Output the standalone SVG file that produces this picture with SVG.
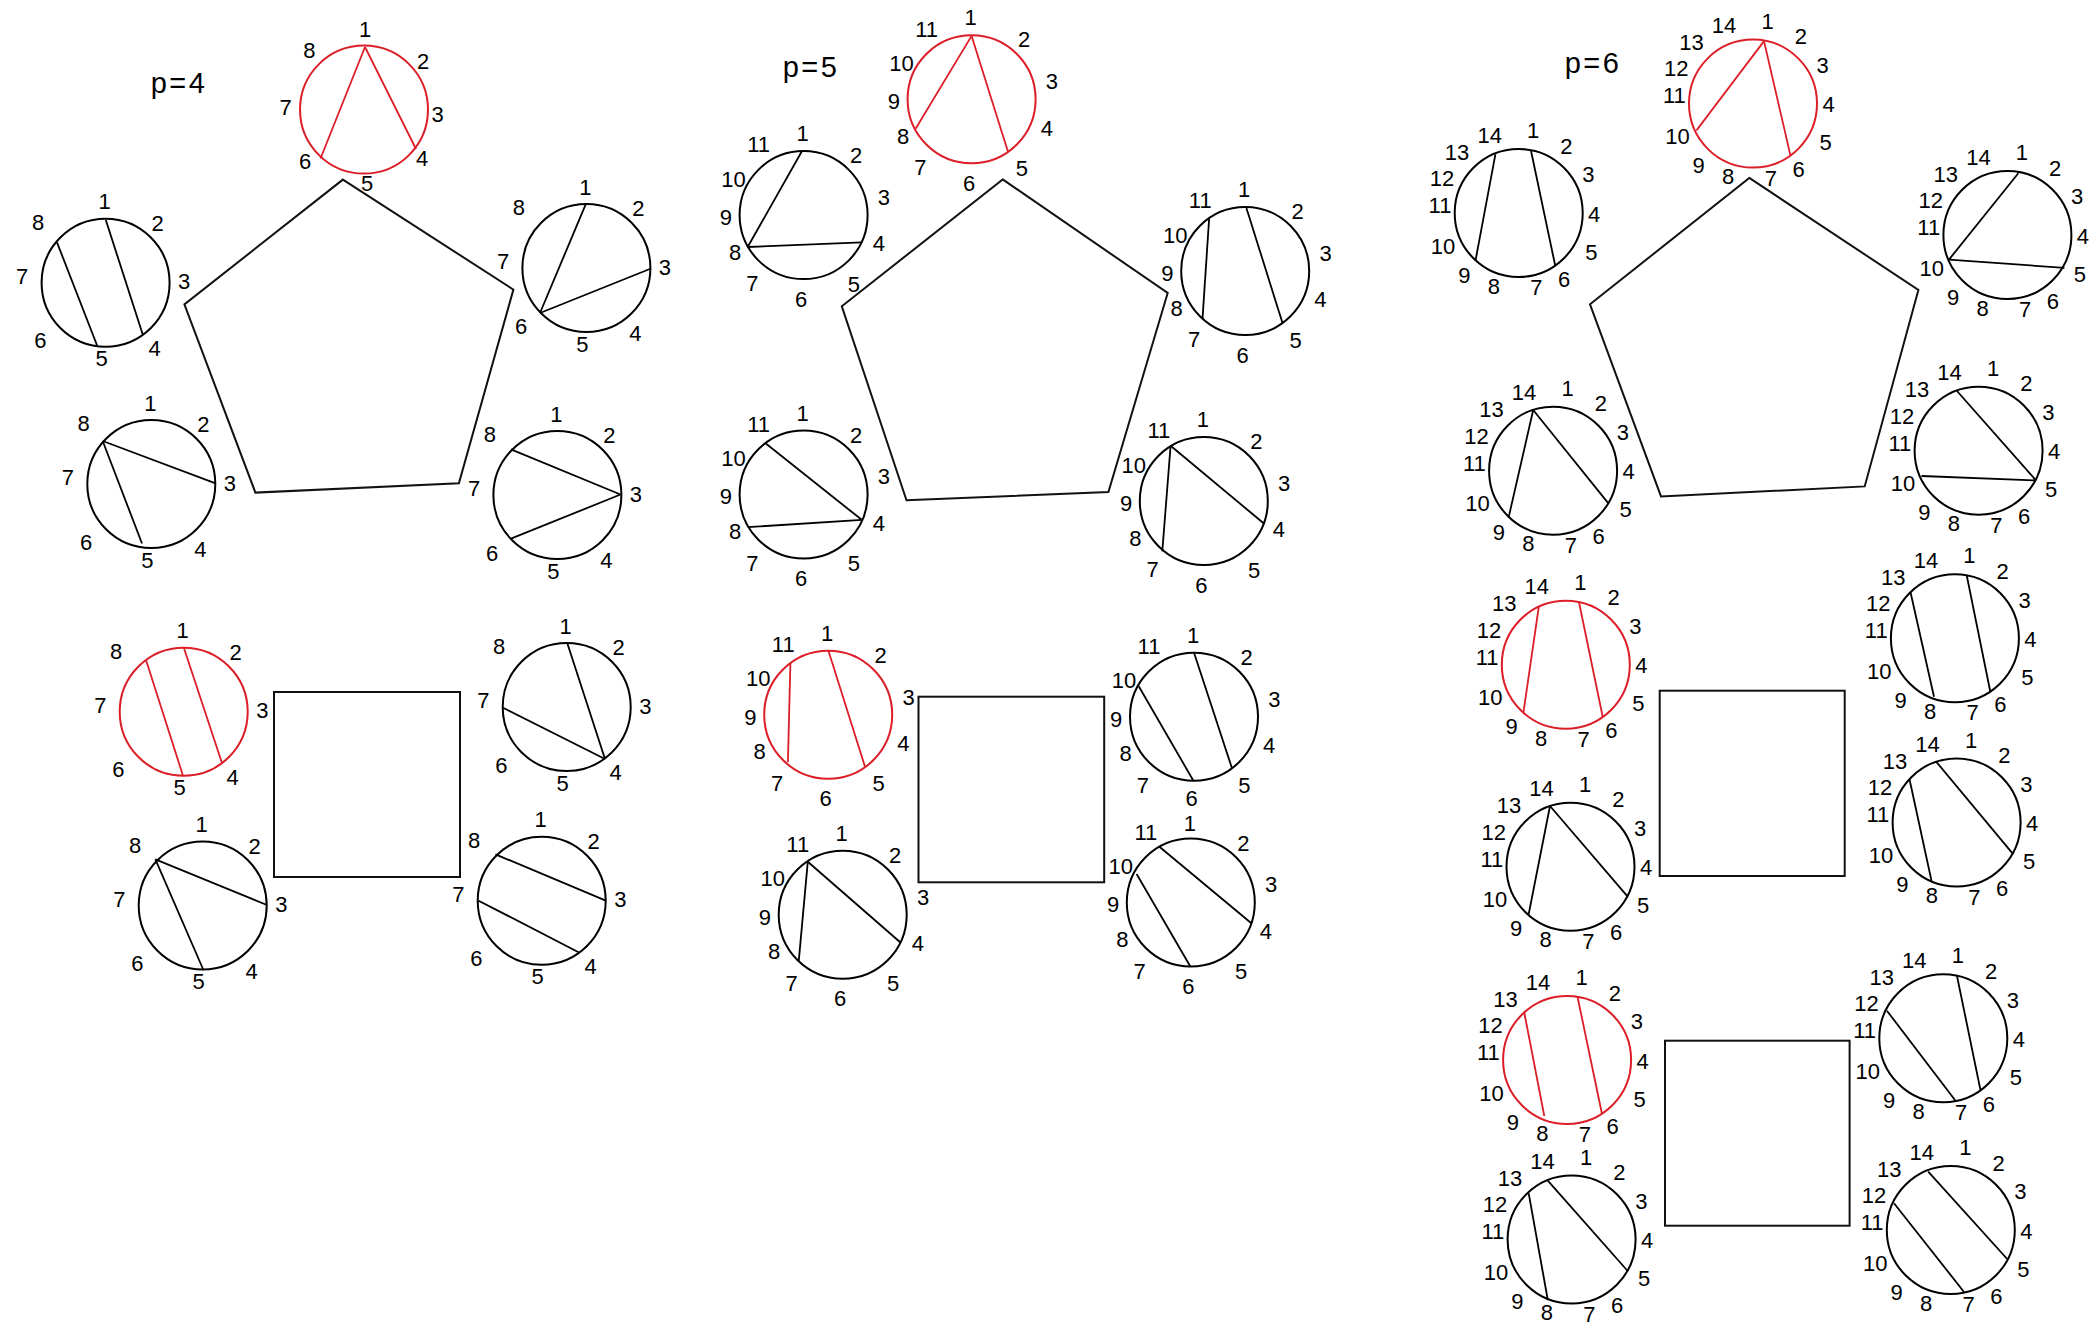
<svg xmlns="http://www.w3.org/2000/svg" width="2096" height="1334" viewBox="0 0 2096 1334">
<style>
.t{font:29px "Liberation Sans",Arial,sans-serif;letter-spacing:2.5px;text-anchor:middle;fill:#000}
.l{font:22px "Liberation Sans",Arial,sans-serif;text-anchor:middle;fill:#000}
.c{fill:none;stroke:#000;stroke-width:2}
.cr{fill:none;stroke:#dc1e28;stroke-width:2}
.k{stroke:#000;stroke-width:1.8}
.kr{stroke:#dc1e28;stroke-width:1.8}
.sh{fill:none;stroke:#111;stroke-width:2}
</style>
<rect width="2096" height="1334" fill="#fff"/>
<text class="t" x="179" y="93">p=4</text>
<text class="t" x="811" y="77">p=5</text>
<text class="t" x="1593" y="73">p=6</text>

<g id="p4-pentagon"><polygon class="sh" points="342.9,179.6 513.4,289.6 458.9,483.3 255.4,492.6 184.4,304.4"/></g>
<g id="p4-square"><rect class="sh" x="274" y="692" width="186" height="185"/></g>
<g id="p5-pentagon"><polygon class="sh" points="1002.7,179.4 1167.7,293 1108.4,492 906.5,500.2 841.8,306.3"/></g>
<g id="p5-square"><rect class="sh" x="918.5" y="696.7" width="185.7" height="185.6"/></g>
<g id="p6-pentagon"><polygon class="sh" points="1749.3,177.9 1918.4,290 1864.7,486.4 1661,496.4 1590,304.3"/></g>
<g id="p6-square1"><rect class="sh" x="1659.7" y="690.7" width="185" height="185.3"/></g>
<g id="p6-square2"><rect class="sh" x="1665" y="1040.7" width="184.6" height="185"/></g>

<!-- p=4 -->
<g id="p4-A"><circle class="cr" cx="364" cy="109.6" r="64"/>
<line class="kr" x1="365" y1="47" x2="416" y2="149"/><line class="kr" x1="365" y1="47" x2="320.5" y2="158.5"/>
<g class="l" transform="translate(364,109.6)"><text x="1.2" y="-72.5">1</text><text x="59" y="-41">2</text><text x="73.5" y="12.7">3</text><text x="58" y="56.5">4</text><text x="3" y="81.9">5</text><text x="-59" y="59.8">6</text><text x="-78.3" y="5.3">7</text><text x="-54.6" y="-51.4">8</text></g></g>

<g id="p4-B"><circle class="c" cx="105.6" cy="282.8" r="64"/>
<line class="k" x1="105.8" y1="220" x2="142.9" y2="335"/><line class="k" x1="57" y1="242.4" x2="97.3" y2="346"/>
<g class="l" transform="translate(105.6,282.8)"><text x="-1" y="-73.5">1</text><text x="52" y="-52">2</text><text x="78.6" y="6.5">3</text><text x="49" y="73">4</text><text x="-4" y="83.5">5</text><text x="-65.3" y="65.5">6</text><text x="-83.4" y="1">7</text><text x="-67.6" y="-53">8</text></g></g>

<g id="p4-C"><circle class="c" cx="586.4" cy="268" r="64"/>
<line class="k" x1="585.7" y1="204.4" x2="540" y2="313"/><line class="k" x1="540" y1="313" x2="651" y2="268.5"/>
<g class="l" transform="translate(586.4,268)"><text x="-1" y="-73.5">1</text><text x="52" y="-52">2</text><text x="78.6" y="6.5">3</text><text x="49" y="73">4</text><text x="-4" y="83.5">5</text><text x="-65.3" y="65.5">6</text><text x="-83.4" y="1">7</text><text x="-67.6" y="-53">8</text></g></g>

<g id="p4-D"><circle class="c" cx="151.3" cy="484" r="64"/>
<line class="k" x1="102.7" y1="441" x2="215.6" y2="483.4"/><line class="k" x1="102.7" y1="441" x2="142" y2="543.5"/>
<g class="l" transform="translate(151.3,484)"><text x="-1" y="-73.5">1</text><text x="52" y="-52">2</text><text x="78.6" y="6.5">3</text><text x="49" y="73">4</text><text x="-4" y="83.5">5</text><text x="-65.3" y="65.5">6</text><text x="-83.4" y="1">7</text><text x="-67.6" y="-53">8</text></g></g>

<g id="p4-E"><circle class="c" cx="557.4" cy="495" r="64"/>
<line class="k" x1="511" y1="449.4" x2="620.5" y2="494.5"/><line class="k" x1="620.5" y1="494.5" x2="511" y2="538.7"/>
<g class="l" transform="translate(557.4,495)"><text x="-1" y="-73.5">1</text><text x="52" y="-52">2</text><text x="78.6" y="6.5">3</text><text x="49" y="73">4</text><text x="-4" y="83.5">5</text><text x="-65.3" y="65.5">6</text><text x="-83.4" y="1">7</text><text x="-67.6" y="-53">8</text></g></g>

<g id="p4-F"><circle class="cr" cx="183.7" cy="711.8" r="64"/>
<line class="kr" x1="184" y1="648.3" x2="221.9" y2="762.7"/><line class="kr" x1="146" y1="660" x2="183" y2="775.7"/>
<g class="l" transform="translate(183.7,711.8)"><text x="-1" y="-73.5">1</text><text x="52" y="-52">2</text><text x="78.6" y="6.5">3</text><text x="49" y="73">4</text><text x="-4" y="83.5">5</text><text x="-65.3" y="65.5">6</text><text x="-83.4" y="1">7</text><text x="-67.6" y="-53">8</text></g></g>

<g id="p4-G"><circle class="c" cx="566.7" cy="707" r="64"/>
<line class="k" x1="567" y1="642.3" x2="605" y2="759"/><line class="k" x1="503" y1="707.7" x2="605" y2="759"/>
<g class="l" transform="translate(566.7,707)"><text x="-1" y="-73.5">1</text><text x="52" y="-52">2</text><text x="78.6" y="6.5">3</text><text x="49" y="73">4</text><text x="-4" y="83.5">5</text><text x="-65.3" y="65.5">6</text><text x="-83.4" y="1">7</text><text x="-67.6" y="-53">8</text></g></g>

<g id="p4-H"><circle class="c" cx="202.7" cy="905.5" r="64"/>
<line class="k" x1="155.4" y1="859.3" x2="267" y2="905"/><line class="k" x1="155.4" y1="859.3" x2="203" y2="969"/>
<g class="l" transform="translate(202.7,905.5)"><text x="-1" y="-73.5">1</text><text x="52" y="-52">2</text><text x="78.6" y="6.5">3</text><text x="49" y="73">4</text><text x="-4" y="83.5">5</text><text x="-65.3" y="65.5">6</text><text x="-83.4" y="1">7</text><text x="-67.6" y="-53">8</text></g></g>

<g id="p4-I"><circle class="c" cx="541.7" cy="900.8" r="64"/>
<line class="k" x1="495.5" y1="854.3" x2="605.8" y2="900.7"/><line class="k" x1="478.6" y1="900.7" x2="579.5" y2="952.7"/>
<g class="l" transform="translate(541.7,900.8)"><text x="-1" y="-73.5">1</text><text x="52" y="-52">2</text><text x="78.6" y="6.5">3</text><text x="49" y="73">4</text><text x="-4" y="83.5">5</text><text x="-65.3" y="65.5">6</text><text x="-83.4" y="1">7</text><text x="-67.6" y="-53">8</text></g></g>

<!-- p=5 -->
<g id="p5-J"><circle class="cr" cx="971.6" cy="99.3" r="64"/>
<line class="kr" x1="971.6" y1="35.9" x2="915.6" y2="128.7"/><line class="kr" x1="971.6" y1="35.9" x2="1008" y2="151.7"/>
<g class="l" transform="translate(971.6,99.3)"><text x="-1" y="-74">1</text><text x="52.5" y="-51.9">2</text><text x="80.4" y="-10.1">3</text><text x="75.2" y="36.3">4</text><text x="50.4" y="76.5">5</text><text x="-2.5" y="91.5">6</text><text x="-51.2" y="76">7</text><text x="-68.5" y="44.5">8</text><text x="-77.8" y="9.9">9</text><text x="-70" y="-28.5">10</text><text x="-45" y="-62.7">11</text></g></g>

<g id="p5-K"><circle class="c" cx="803.6" cy="215.1" r="64"/>
<line class="k" x1="801.6" y1="151.7" x2="747.7" y2="247"/><line class="k" x1="747.7" y1="247" x2="861.7" y2="242.3"/>
<g class="l" transform="translate(803.6,215.1)"><text x="-1" y="-74">1</text><text x="52.5" y="-51.9">2</text><text x="80.4" y="-10.1">3</text><text x="75.2" y="36.3">4</text><text x="50.4" y="76.5">5</text><text x="-2.5" y="91.5">6</text><text x="-51.2" y="76">7</text><text x="-68.5" y="44.5">8</text><text x="-77.8" y="9.9">9</text><text x="-70" y="-28.5">10</text><text x="-45" y="-62.7">11</text></g></g>

<g id="p5-L"><circle class="c" cx="1245.2" cy="271" r="64"/>
<line class="k" x1="1246.4" y1="207.9" x2="1282.5" y2="323"/><line class="k" x1="1209.1" y1="219" x2="1202.5" y2="318.9"/>
<g class="l" transform="translate(1245.2,271)"><text x="-1" y="-74">1</text><text x="52.5" y="-51.9">2</text><text x="80.4" y="-10.1">3</text><text x="75.2" y="36.3">4</text><text x="50.4" y="76.5">5</text><text x="-2.5" y="91.5">6</text><text x="-51.2" y="76">7</text><text x="-68.5" y="44.5">8</text><text x="-77.8" y="9.9">9</text><text x="-70" y="-28.5">10</text><text x="-45" y="-62.7">11</text></g></g>

<g id="p5-M"><circle class="c" cx="803.6" cy="494.5" r="64"/>
<line class="k" x1="765.5" y1="443.2" x2="861.7" y2="519.8"/><line class="k" x1="747.7" y1="527.2" x2="861.7" y2="519.8"/>
<g class="l" transform="translate(803.6,494.5)"><text x="-1" y="-74">1</text><text x="52.5" y="-51.9">2</text><text x="80.4" y="-10.1">3</text><text x="75.2" y="36.3">4</text><text x="50.4" y="76.5">5</text><text x="-2.5" y="91.5">6</text><text x="-51.2" y="76">7</text><text x="-68.5" y="44.5">8</text><text x="-77.8" y="9.9">9</text><text x="-70" y="-28.5">10</text><text x="-45" y="-62.7">11</text></g></g>

<g id="p5-N"><circle class="c" cx="1203.8" cy="501" r="64"/>
<line class="k" x1="1170.6" y1="445.8" x2="1263.9" y2="523.5"/><line class="k" x1="1170.6" y1="445.8" x2="1162.3" y2="551.2"/>
<g class="l" transform="translate(1203.8,501)"><text x="-1" y="-74">1</text><text x="52.5" y="-51.9">2</text><text x="80.4" y="-10.1">3</text><text x="75.2" y="36.3">4</text><text x="50.4" y="76.5">5</text><text x="-2.5" y="91.5">6</text><text x="-51.2" y="76">7</text><text x="-68.5" y="44.5">8</text><text x="-77.8" y="9.9">9</text><text x="-70" y="-28.5">10</text><text x="-45" y="-62.7">11</text></g></g>

<g id="p5-O"><circle class="cr" cx="828.2" cy="714.8" r="64"/>
<line class="kr" x1="828.5" y1="651" x2="865" y2="766.7"/><line class="kr" x1="790.4" y1="663.3" x2="787.9" y2="762.3"/>
<g class="l" transform="translate(828.2,714.8)"><text x="-1" y="-74">1</text><text x="52.5" y="-51.9">2</text><text x="80.4" y="-10.1">3</text><text x="75.2" y="36.3">4</text><text x="50.4" y="76.5">5</text><text x="-2.5" y="91.5">6</text><text x="-51.2" y="76">7</text><text x="-68.5" y="44.5">8</text><text x="-77.8" y="9.9">9</text><text x="-70" y="-28.5">10</text><text x="-45" y="-62.7">11</text></g></g>

<g id="p5-P"><circle class="c" cx="1194" cy="716.7" r="64"/>
<line class="k" x1="1194.2" y1="653.3" x2="1232" y2="768.3"/><line class="k" x1="1138.6" y1="686" x2="1193.4" y2="780.7"/>
<g class="l" transform="translate(1194,716.7)"><text x="-1" y="-74">1</text><text x="52.5" y="-51.9">2</text><text x="80.4" y="-10.1">3</text><text x="75.2" y="36.3">4</text><text x="50.4" y="76.5">5</text><text x="-2.5" y="89.5">6</text><text x="-51.2" y="76">7</text><text x="-68.5" y="44.5">8</text><text x="-77.8" y="9.9">9</text><text x="-70" y="-28.5">10</text><text x="-45" y="-62.7">11</text></g></g>

<g id="p5-Q"><circle class="c" cx="842.7" cy="914.8" r="64"/>
<line class="k" x1="807.8" y1="861.7" x2="900.2" y2="942.3"/><line class="k" x1="807.8" y1="861.7" x2="798.7" y2="961.7"/>
<g class="l" transform="translate(842.7,914.8)"><text x="-1" y="-74">1</text><text x="52.5" y="-51.9">2</text><text x="80.4" y="-10.1">3</text><text x="75.2" y="36.3">4</text><text x="50.4" y="76.5">5</text><text x="-2.5" y="91.5">6</text><text x="-51.2" y="76">7</text><text x="-68.5" y="44.5">8</text><text x="-77.8" y="9.9">9</text><text x="-70" y="-28.5">10</text><text x="-45" y="-62.7">11</text></g></g>

<g id="p5-R"><circle class="c" cx="1190.8" cy="902.5" r="64"/>
<line class="k" x1="1159.4" y1="846.7" x2="1251.4" y2="923.3"/><line class="k" x1="1136.6" y1="874" x2="1190.5" y2="966.7"/>
<g class="l" transform="translate(1190.8,902.5)"><text x="-1" y="-72">1</text><text x="52.5" y="-51.9">2</text><text x="80.4" y="-10.1">3</text><text x="75.2" y="36.3">4</text><text x="50.4" y="76.5">5</text><text x="-2.5" y="91.5">6</text><text x="-51.2" y="76">7</text><text x="-68.5" y="44.5">8</text><text x="-77.8" y="9.9">9</text><text x="-70" y="-28.5">10</text><text x="-45" y="-62.7">11</text></g></g>

<!-- p=6 -->
<g id="p6-S"><circle class="cr" cx="1753" cy="103.6" r="64"/>
<line class="kr" x1="1764" y1="41.1" x2="1696.5" y2="130.4"/><line class="kr" x1="1764" y1="41.1" x2="1790.6" y2="156.1"/>
<g class="l" transform="translate(1753,103.6)"><text x="14.5" y="-74.9">1</text><text x="47.8" y="-59.5">2</text><text x="69.7" y="-30.6">3</text><text x="75.5" y="8.5">4</text><text x="72.6" y="46.5">5</text><text x="45.5" y="73.6">6</text><text x="17.8" y="82.2">7</text><text x="-24.8" y="80.8">8</text><text x="-54.3" y="69.7">9</text><text x="-75.6" y="40.5">10</text><text x="-78.7" y="-0.2">11</text><text x="-76.7" y="-27.2">12</text><text x="-61.6" y="-53.5">13</text><text x="-29" y="-70.5">14</text></g></g>

<g id="p6-T"><circle class="c" cx="1518.7" cy="213" r="64"/>
<line class="k" x1="1531" y1="150.7" x2="1555.3" y2="266"/><line class="k" x1="1495.4" y1="154.3" x2="1475.5" y2="260.7"/>
<g class="l" transform="translate(1518.7,213)"><text x="14.5" y="-74.9">1</text><text x="47.8" y="-59.5">2</text><text x="69.7" y="-30.6">3</text><text x="75.5" y="8.5">4</text><text x="72.6" y="46.5">5</text><text x="45.5" y="73.6">6</text><text x="17.8" y="82.2">7</text><text x="-24.8" y="80.8">8</text><text x="-54.3" y="69.7">9</text><text x="-75.6" y="40.5">10</text><text x="-78.7" y="-0.2">11</text><text x="-76.7" y="-27.2">12</text><text x="-61.6" y="-53.5">13</text><text x="-29" y="-70.5">14</text></g></g>

<g id="p6-U"><circle class="c" cx="2007.4" cy="235" r="64"/>
<line class="k" x1="2018.3" y1="173.2" x2="1949" y2="259.6"/><line class="k" x1="1949" y1="259.6" x2="2064.4" y2="267.9"/>
<g class="l" transform="translate(2007.4,235)"><text x="14.5" y="-74.9">1</text><text x="47.8" y="-59.5">2</text><text x="69.7" y="-30.6">3</text><text x="75.5" y="8.5">4</text><text x="72.6" y="46.5">5</text><text x="45.5" y="73.6">6</text><text x="17.8" y="82.2">7</text><text x="-24.8" y="80.8">8</text><text x="-54.3" y="69.7">9</text><text x="-75.6" y="40.5">10</text><text x="-78.7" y="-0.2">11</text><text x="-76.7" y="-27.2">12</text><text x="-61.6" y="-53.5">13</text><text x="-29" y="-70.5">14</text></g></g>

<g id="p6-V"><circle class="c" cx="1553.1" cy="470.7" r="64"/>
<line class="k" x1="1533.2" y1="410" x2="1608.6" y2="503.6"/><line class="k" x1="1533.2" y1="410" x2="1508.7" y2="517.1"/>
<g class="l" transform="translate(1553.1,470.7)"><text x="14.5" y="-74.9">1</text><text x="47.8" y="-59.5">2</text><text x="69.7" y="-30.6">3</text><text x="75.5" y="8.5">4</text><text x="72.6" y="46.5">5</text><text x="45.5" y="73.6">6</text><text x="17.8" y="82.2">7</text><text x="-24.8" y="80.8">8</text><text x="-54.3" y="69.7">9</text><text x="-75.6" y="40.5">10</text><text x="-78.7" y="-0.2">11</text><text x="-76.7" y="-27.2">12</text><text x="-61.6" y="-53.5">13</text><text x="-29" y="-70.5">14</text></g></g>

<g id="p6-W"><circle class="c" cx="1978.6" cy="450.7" r="64"/>
<line class="k" x1="1957" y1="391" x2="2036" y2="480.4"/><line class="k" x1="1921.5" y1="476" x2="2036" y2="480.4"/>
<g class="l" transform="translate(1978.6,450.7)"><text x="14.5" y="-74.9">1</text><text x="47.8" y="-59.5">2</text><text x="69.7" y="-30.6">3</text><text x="75.5" y="8.5">4</text><text x="72.6" y="46.5">5</text><text x="45.5" y="73.6">6</text><text x="17.8" y="82.2">7</text><text x="-24.8" y="80.8">8</text><text x="-54.3" y="69.7">9</text><text x="-75.6" y="40.5">10</text><text x="-78.7" y="-0.2">11</text><text x="-76.7" y="-27.2">12</text><text x="-61.6" y="-53.5">13</text><text x="-29" y="-70.5">14</text></g></g>

<g id="p6-X"><circle class="cr" cx="1565.8" cy="664.8" r="64"/>
<line class="kr" x1="1578.9" y1="601.7" x2="1602.8" y2="717.3"/><line class="kr" x1="1538.9" y1="606" x2="1523.4" y2="712.7"/>
<g class="l" transform="translate(1565.8,664.8)"><text x="14.5" y="-74.9">1</text><text x="47.8" y="-59.5">2</text><text x="69.7" y="-30.6">3</text><text x="75.5" y="8.5">4</text><text x="72.6" y="46.5">5</text><text x="45.5" y="73.6">6</text><text x="17.8" y="82.2">7</text><text x="-24.8" y="80.8">8</text><text x="-54.3" y="69.7">9</text><text x="-75.6" y="40.5">10</text><text x="-78.7" y="-0.2">11</text><text x="-76.7" y="-27.2">12</text><text x="-61.6" y="-53.5">13</text><text x="-29" y="-70.5">14</text></g></g>

<g id="p6-Y"><circle class="c" cx="1954.9" cy="638.3" r="64"/>
<line class="k" x1="1966.8" y1="575.7" x2="1990.3" y2="691.7"/><line class="k" x1="1910.4" y1="591.7" x2="1934" y2="696.7"/>
<g class="l" transform="translate(1954.9,638.3)"><text x="14.5" y="-74.9">1</text><text x="47.8" y="-59.5">2</text><text x="69.7" y="-30.6">3</text><text x="75.5" y="8.5">4</text><text x="72.6" y="46.5">5</text><text x="45.5" y="73.6">6</text><text x="17.8" y="82.2">7</text><text x="-24.8" y="80.8">8</text><text x="-54.3" y="69.7">9</text><text x="-75.6" y="40.5">10</text><text x="-78.7" y="-0.2">11</text><text x="-76.7" y="-27.2">12</text><text x="-61.6" y="-53.5">13</text><text x="-29" y="-70.5">14</text></g></g>

<g id="p6-Z"><circle class="c" cx="1570.5" cy="866.7" r="64"/>
<line class="k" x1="1550" y1="806" x2="1627.7" y2="896.7"/><line class="k" x1="1550" y1="806" x2="1528.7" y2="914"/>
<g class="l" transform="translate(1570.5,866.7)"><text x="14.5" y="-74.9">1</text><text x="47.8" y="-59.5">2</text><text x="69.7" y="-30.6">3</text><text x="75.5" y="8.5">4</text><text x="72.6" y="46.5">5</text><text x="45.5" y="73.6">6</text><text x="17.8" y="82.2">7</text><text x="-24.8" y="80.8">8</text><text x="-54.3" y="69.7">9</text><text x="-75.6" y="40.5">10</text><text x="-78.7" y="-0.2">11</text><text x="-76.7" y="-27.2">12</text><text x="-61.6" y="-53.5">13</text><text x="-29" y="-70.5">14</text></g></g>

<g id="p6-AA"><circle class="c" cx="1956.6" cy="822.5" r="64"/>
<line class="k" x1="1936.2" y1="761.7" x2="2012.5" y2="853.3"/><line class="k" x1="1909.5" y1="779.3" x2="1931.7" y2="881.7"/>
<g class="l" transform="translate(1956.6,822.5)"><text x="14.5" y="-74.9">1</text><text x="47.8" y="-59.5">2</text><text x="69.7" y="-30.6">3</text><text x="75.5" y="8.5">4</text><text x="72.6" y="46.5">5</text><text x="45.5" y="73.6">6</text><text x="17.8" y="82.2">7</text><text x="-24.8" y="80.8">8</text><text x="-54.3" y="69.7">9</text><text x="-75.6" y="40.5">10</text><text x="-78.7" y="-0.2">11</text><text x="-76.7" y="-27.2">12</text><text x="-61.6" y="-53.5">13</text><text x="-29" y="-70.5">14</text></g></g>

<g id="p6-AB"><circle class="cr" cx="1567.1" cy="1060" r="64"/>
<line class="kr" x1="1577.5" y1="996.7" x2="1602" y2="1114"/><line class="kr" x1="1524.3" y1="1012.7" x2="1544.3" y2="1116"/>
<g class="l" transform="translate(1567.1,1060)"><text x="14.5" y="-74.9">1</text><text x="47.8" y="-59.5">2</text><text x="69.7" y="-30.6">3</text><text x="75.5" y="8.5">4</text><text x="72.6" y="46.5">5</text><text x="45.5" y="73.6">6</text><text x="17.8" y="82.2">7</text><text x="-24.8" y="80.8">8</text><text x="-54.3" y="69.7">9</text><text x="-75.6" y="40.5">10</text><text x="-78.7" y="-0.2">11</text><text x="-76.7" y="-27.2">12</text><text x="-61.6" y="-53.5">13</text><text x="-29" y="-70.5">14</text></g></g>

<g id="p6-AC"><circle class="c" cx="1943.3" cy="1038.3" r="64"/>
<line class="k" x1="1957" y1="976" x2="1980.6" y2="1090.7"/><line class="k" x1="1886.9" y1="1010.7" x2="1955.7" y2="1101"/>
<g class="l" transform="translate(1943.3,1038.3)"><text x="14.5" y="-74.9">1</text><text x="47.8" y="-59.5">2</text><text x="69.7" y="-30.6">3</text><text x="75.5" y="8.5">4</text><text x="72.6" y="46.5">5</text><text x="45.5" y="73.6">6</text><text x="17.8" y="82.2">7</text><text x="-24.8" y="80.8">8</text><text x="-54.3" y="69.7">9</text><text x="-75.6" y="40.5">10</text><text x="-78.7" y="-0.2">11</text><text x="-76.7" y="-27.2">12</text><text x="-61.6" y="-53.5">13</text><text x="-29" y="-70.5">14</text></g></g>

<g id="p6-AD"><circle class="c" cx="1571.6" cy="1239.5" r="64"/>
<line class="k" x1="1547.8" y1="1180.7" x2="1627.7" y2="1271"/><line class="k" x1="1528.7" y1="1193.3" x2="1547.8" y2="1300"/>
<g class="l" transform="translate(1571.6,1239.5)"><text x="14.5" y="-74.9">1</text><text x="47.8" y="-59.5">2</text><text x="69.7" y="-30.6">3</text><text x="75.5" y="8.5">4</text><text x="72.6" y="46.5">5</text><text x="45.5" y="73.6">6</text><text x="17.8" y="82.2">7</text><text x="-24.8" y="80.8">8</text><text x="-54.3" y="69.7">9</text><text x="-75.6" y="40.5">10</text><text x="-78.7" y="-0.2">11</text><text x="-76.7" y="-27.2">12</text><text x="-61.6" y="-53.5">13</text><text x="-29" y="-70.5">14</text></g></g>

<g id="p6-AE"><circle class="c" cx="1950.8" cy="1230" r="64"/>
<line class="k" x1="1928.2" y1="1171.7" x2="2007.2" y2="1259"/><line class="k" x1="1894" y1="1203.3" x2="1964.6" y2="1292.7"/>
<g class="l" transform="translate(1950.8,1230)"><text x="14.5" y="-74.9">1</text><text x="47.8" y="-59.5">2</text><text x="69.7" y="-30.6">3</text><text x="75.5" y="8.5">4</text><text x="72.6" y="46.5">5</text><text x="45.5" y="73.6">6</text><text x="17.8" y="82.2">7</text><text x="-24.8" y="80.8">8</text><text x="-54.3" y="69.7">9</text><text x="-75.6" y="40.5">10</text><text x="-78.7" y="-0.2">11</text><text x="-76.7" y="-27.2">12</text><text x="-61.6" y="-53.5">13</text><text x="-29" y="-70.5">14</text></g></g>
</svg>
